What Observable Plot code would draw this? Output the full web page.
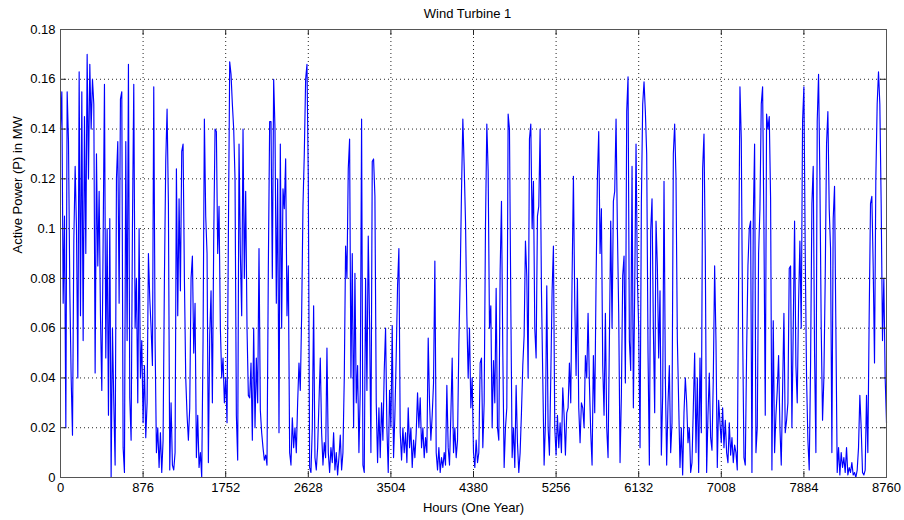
<!DOCTYPE html>
<html>
<head>
<meta charset="utf-8">
<script src="https://cdn.jsdelivr.net/npm/d3@7"></script>
<script src="https://cdn.jsdelivr.net/npm/@observablehq/plot@0.6"></script>
<style>
  html, body { margin: 0; padding: 0; background: #fff; }
  #chart { width: 904px; height: 520px; }
</style>
</head>
<body>
<div id="chart"></div>
<script>
const title = "Wind Turbine 1";
const xLabel = "Hours (One Year)";
const yLabel = "Active Power (P) in MW";
const xTicks = [0, 876, 1752, 2628, 3504, 4380, 5256, 6132, 7008, 7884, 8760];
const yTicks = [0, 0.02, 0.04, 0.06, 0.08, 0.1, 0.12, 0.14, 0.16, 0.18];

// Active power (MW) at an even spacing across the year
const power = [
  0.140,0.155,0.070,0.105,0.020,0.155,0.135,0.075,0.040,0.017,
  0.095,0.125,0.100,0.040,0.163,0.065,0.155,0.055,0.145,0.090,
  0.170,0.120,0.166,0.140,0.160,0.150,0.042,0.130,0.085,0.115,
  0.065,0.035,0.095,0.158,0.048,0.100,0.025,0.104,0.000,0.060,
  0.030,0.005,0.120,0.135,0.070,0.152,0.155,0.012,0.002,0.135,
  0.055,0.166,0.032,0.015,0.100,0.158,0.060,0.080,0.030,0.100,
  0.040,0.055,0.022,0.045,0.016,0.030,0.090,0.072,0.060,0.045,
  0.157,0.055,0.010,0.020,0.004,0.018,0.002,0.015,0.080,0.127,

  0.148,0.110,0.003,0.030,0.005,0.003,0.010,0.124,0.065,0.112,
  0.075,0.131,0.134,0.080,0.040,0.025,0.015,0.028,0.080,0.089,
  0.050,0.070,0.008,0.025,0.004,0.010,0.000,0.055,0.144,0.105,
  0.090,0.006,0.057,0.075,0.030,0.095,0.140,0.139,0.090,0.109,
  0.060,0.040,0.048,0.030,0.040,0.022,0.096,0.167,0.162,0.150,
  0.140,0.120,0.025,0.007,0.134,0.090,0.065,0.140,0.080,0.115,
  0.060,0.033,0.032,0.046,0.015,0.060,0.020,0.048,0.030,0.092,
  0.027,0.018,0.012,0.007,0.009,0.005,0.084,0.143,

  0.143,0.080,0.160,0.140,0.070,0.120,0.018,0.134,0.060,0.116,
  0.108,0.128,0.065,0.085,0.010,0.005,0.024,0.012,0.020,0.010,
  0.030,0.046,0.035,0.065,0.109,0.130,0.160,0.166,0.120,0.004,
  0.002,0.020,0.069,0.008,0.003,0.012,0.030,0.048,0.018,0.005,
  0.014,0.008,0.052,0.010,0.002,0.012,0.006,0.018,0.003,0.010,
  0.001,0.008,0.017,0.003,0.010,0.040,0.093,0.080,0.124,0.136,
  0.040,0.090,0.020,0.082,0.030,0.045,0.010,0.035,0.144,0.005,
  0.002,0.080,0.035,0.097,0.062,0.010,0.127,0.128,

  0.113,0.030,0.006,0.028,0.008,0.030,0.015,0.043,0.060,0.020,
  0.002,0.035,0.020,0.061,0.008,0.025,0.049,0.077,0.092,0.018,
  0.007,0.020,0.010,0.018,0.006,0.028,0.012,0.020,0.004,0.015,
  0.008,0.018,0.034,0.020,0.032,0.012,0.020,0.008,0.016,0.010,
  0.056,0.030,0.015,0.025,0.038,0.087,0.010,0.003,0.012,0.002,
  0.008,0.004,0.010,0.005,0.037,0.012,0.005,0.025,0.048,0.010,
  0.020,0.008,0.015,0.053,0.080,0.115,0.144,0.125,0.103,0.065,
  0.040,0.060,0.028,0.040,0.010,0.004,0.015,0.006,

  0.010,0.046,0.048,0.012,0.030,0.101,0.142,0.123,0.060,0.069,
  0.020,0.047,0.030,0.076,0.020,0.015,0.083,0.111,0.050,0.004,
  0.020,0.028,0.146,0.140,0.070,0.008,0.020,0.004,0.037,0.014,
  0.002,0.010,0.026,0.045,0.057,0.095,0.081,0.040,0.136,0.142,
  0.100,0.119,0.060,0.048,0.105,0.109,0.140,0.075,0.040,0.005,
  0.022,0.077,0.020,0.009,0.040,0.075,0.093,0.020,0.009,0.025,
  0.012,0.022,0.010,0.036,0.025,0.009,0.026,0.028,0.046,0.030,
  0.080,0.121,0.070,0.041,0.080,0.028,0.014,0.030,

  0.028,0.020,0.049,0.040,0.066,0.038,0.018,0.005,0.049,0.026,
  0.079,0.120,0.139,0.090,0.108,0.045,0.025,0.066,0.020,0.008,
  0.055,0.103,0.060,0.111,0.115,0.144,0.100,0.066,0.006,0.033,
  0.081,0.089,0.038,0.147,0.161,0.055,0.043,0.125,0.028,0.075,
  0.134,0.080,0.060,0.012,0.110,0.150,0.159,0.147,0.130,0.050,
  0.005,0.099,0.112,0.060,0.026,0.103,0.085,0.048,0.075,0.009,
  0.033,0.119,0.040,0.005,0.030,0.045,0.010,0.022,0.130,0.142,
  0.120,0.056,0.030,0.004,0.020,0.001,0.026,0.040,

  0.030,0.014,0.020,0.002,0.006,0.028,0.050,0.010,0.040,0.002,
  0.048,0.018,0.124,0.138,0.089,0.002,0.025,0.042,0.016,0.011,
  0.040,0.085,0.055,0.004,0.031,0.022,0.014,0.028,0.012,0.023,
  0.010,0.006,0.022,0.009,0.016,0.006,0.013,0.010,0.003,0.080,
  0.157,0.136,0.060,0.008,0.005,0.050,0.085,0.100,0.103,0.002,
  0.103,0.134,0.010,0.020,0.090,0.108,0.150,0.157,0.100,0.025,
  0.146,0.140,0.145,0.112,0.003,0.063,0.010,0.025,0.035,0.049,
  0.020,0.005,0.035,0.066,0.018,0.023,0.030,0.084,

  0.085,0.020,0.060,0.103,0.045,0.030,0.070,0.095,0.060,0.143,
  0.157,0.090,0.040,0.015,0.003,0.045,0.110,0.125,0.050,0.010,
  0.143,0.162,0.120,0.060,0.023,0.040,0.080,0.134,0.147,0.108,
  0.092,0.010,0.104,0.117,0.060,0.002,0.012,0.001,0.010,0.004,
  0.008,0.002,0.012,0.001,0.004,0.002,0.006,0.001,0.002,0.000,
  0.003,0.012,0.033,0.020,0.002,0.001,0.003,0.033,0.010,0.065,
  0.110,0.113,0.085,0.046,0.120,0.150,0.163,0.150,0.110,0.055,
  0.080,0.040,0.022
];

const hourSpan = 8760;
const data = power.map((p, i) => ({hour: i * hourSpan / (power.length - 1), power: p}));

const xTickLen = 0.0024;   // inward tick length on x axis (in y units)
const yTickLen = 64;       // inward tick length on y axis (in x units)
const gridStyle = {stroke: "#000", strokeOpacity: 0.85, strokeDasharray: "1,3", strokeWidth: 1};
const tickStyle = {stroke: "#222", strokeWidth: 1};

const chart = Plot.plot({
  width: 904,
  height: 520,
  marginLeft: 60,
  marginRight: 18,
  marginTop: 29,
  marginBottom: 43,
  style: {fontFamily: "'Liberation Sans', Arial, Helvetica, sans-serif", fontSize: "13px", background: "#fff", color: "#000", overflow: "visible"},
  x: {domain: [0, 8760]},
  y: {domain: [0, 0.18]},
  marks: [
    Plot.gridX(xTicks, gridStyle),
    Plot.gridY(yTicks, gridStyle),
    Plot.line(data, {x: "hour", y: "power", stroke: "#0000ff", strokeWidth: 1.15}),
    Plot.ruleX(xTicks, {x: d => d, y1: 0, y2: xTickLen, ...tickStyle}),
    Plot.ruleX(xTicks, {x: d => d, y1: 0.18, y2: 0.18 - xTickLen, ...tickStyle}),
    Plot.ruleY(yTicks, {y: d => d, x1: 0, x2: yTickLen, ...tickStyle}),
    Plot.ruleY(yTicks, {y: d => d, x1: 8760, x2: 8760 - yTickLen, ...tickStyle}),
    Plot.frame({stroke: "#555", strokeWidth: 1}),
    Plot.axisX(xTicks, {tickSize: 0, tickPadding: 5, tickFormat: d => String(d), label: null, fontSize: 13}),
    Plot.axisY(yTicks, {tickSize: 0, tickPadding: 5, tickFormat: d3.format("~g"), label: null, fontSize: 13}),
    Plot.text([title], {text: d => d, frameAnchor: "top", lineAnchor: "middle", dy: -16, dx: -6, fontSize: 13}),
    Plot.text([xLabel], {text: d => d, frameAnchor: "bottom", lineAnchor: "middle", dy: 30, fontSize: 13}),
    Plot.text([yLabel], {text: d => d, frameAnchor: "left", dx: -43, rotate: -90, fontSize: 13})
  ]
});
document.getElementById("chart").appendChild(chart);
</script>
</body>
</html>
